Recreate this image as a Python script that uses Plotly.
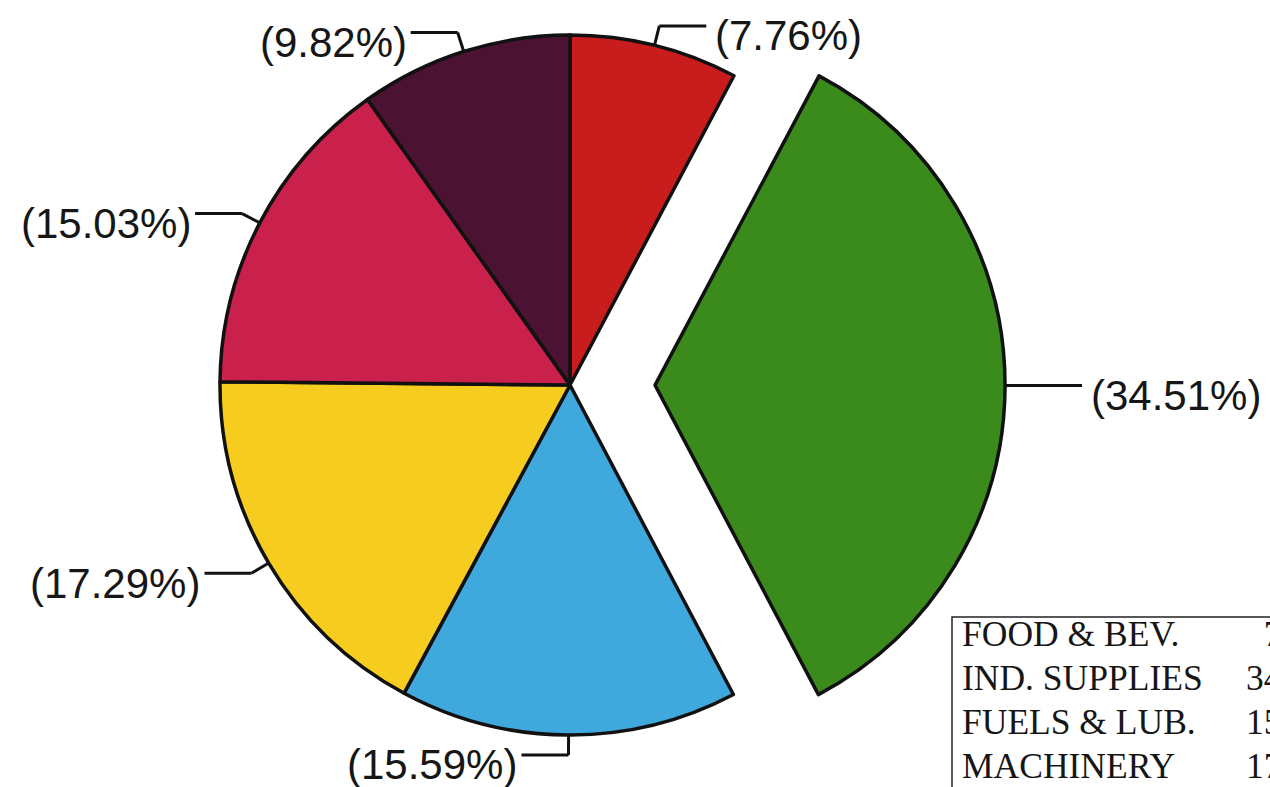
import math
import plotly.graph_objects as go

# ---- data ----
categories = ["FOOD & BEV.", "IND. SUPPLIES", "FUELS & LUB.", "MACHINERY", "TRANSPORT EQUIP.", "OTHERS"]
shares = [7.76, 34.51, 15.59, 17.29, 15.03, 9.82]
colors = ["#c91c1c", "#3a8b1c", "#3fa8dc", "#f6cd1e", "#c9204c", "#4b1331"]
pulled = [False, True, False, False, False, False]
table_rows = ["FOOD & BEV.", "IND. SUPPLIES", "FUELS & LUB.", "MACHINERY"]
table_values = [7.76, 34.51, 15.59, 17.29]

# ---- layout constants ----
W, H = 1270, 787
CX, CY, R = 570, 385, 350
PULL = 0.243
EDGE = "#111111"
LABEL_FONT = dict(family="Liberation Sans, Arial, sans-serif", size=42, color="#161616")
TABLE_FONT = dict(family="Liberation Serif, Times New Roman, serif", size=35.5, color="#161616")


def px2paper(x, y):
    return x / W, 1 - y / H


def domain(cx, cy, r):
    x0, y0 = px2paper(cx - r, cy + r)
    x1, y1 = px2paper(cx + r, cy - r)
    return dict(x=[x0, x1], y=[y0, y1])


total = sum(shares)
# mid angles (clockwise from 12 o'clock)
mids = []
acc = 0
for v in shares:
    mids.append(2 * math.pi * (acc + v / 2) / total)
    acc += v

# offset of pulled slice
pull_idx = pulled.index(True)
sx = PULL * R * math.sin(mids[pull_idx])
sy = -PULL * R * math.cos(mids[pull_idx])

transparent = "rgba(0,0,0,0)"
LW = 3.5

# Base pie: every slice except the pulled one
traceA = go.Pie(
    labels=categories, values=shares, sort=False, direction="clockwise", rotation=0,
    marker=dict(colors=[transparent if p else c for c, p in zip(colors, pulled)],
                line=dict(color=EDGE, width=[0 if p else LW for p in pulled])),
    textinfo="none", domain=domain(CX, CY, R), showlegend=False,
    hovertemplate="%{label}: %{percent}<extra></extra>",
)
# Exploded slice: same pie, shifted along the slice bisector
traceB = go.Pie(
    labels=categories, values=shares, sort=False, direction="clockwise", rotation=0,
    marker=dict(colors=[c if p else transparent for c, p in zip(colors, pulled)],
                line=dict(color=EDGE, width=[LW if p else 0 for p in pulled])),
    textinfo="none", domain=domain(CX + sx, CY + sy, R), showlegend=False,
    hoverinfo="skip",
)

fig = go.Figure([traceA, traceB])

shapes = []
annotations = []
ELBOW = 20
HORIZ = 47
for i, (v, a) in enumerate(zip(shares, mids)):
    cx = CX + (sx if pulled[i] else 0)
    cy = CY + (sy if pulled[i] else 0)
    s, c = math.sin(a), math.cos(a)
    px, py = cx + R * s, cy - R * c
    ex, ey = cx + (R + ELBOW) * s, cy - (R + ELBOW) * c
    side = 1 if s > 1e-6 else -1
    hx = ex + side * (HORIZ + (10 if pulled[i] else 0))
    for (x0, y0, x1, y1) in [(px, py, ex, ey), (ex, ey, hx, ey)]:
        a0 = px2paper(x0, y0)
        a1 = px2paper(x1, y1)
        shapes.append(dict(type="line", xref="paper", yref="paper",
                           x0=a0[0], y0=a0[1], x1=a1[0], y1=a1[1],
                           line=dict(color=EDGE, width=3), layer="above"))
    gap = 7 if side > 0 else 2
    tx, ty = px2paper(hx + side * gap, ey + 10)
    annotations.append(dict(text=f"({v:.2f}%)", x=tx, y=ty, xref="paper", yref="paper",
                            xanchor="left" if side > 0 else "right", yanchor="middle",
                            showarrow=False, font=LABEL_FONT))

# table box at bottom right
TX0, TY0 = 952, 617
ROW_H = 44
b0 = px2paper(TX0, TY0)
b1 = px2paper(W + 40, TY0 + ROW_H * (len(table_rows) + 2))
shapes.append(dict(type="rect", xref="paper", yref="paper", x0=b0[0], y0=b0[1], x1=b1[0], y1=b1[1],
                   line=dict(color="#222222", width=1.5), fillcolor="rgba(0,0,0,0)", layer="above"))
for k, (name, val) in enumerate(zip(table_rows, table_values)):
    ry = TY0 + 17 + ROW_H * k
    lx, ly = px2paper(TX0 + 8, ry)
    annotations.append(dict(text=name, x=lx, y=ly, xref="paper", yref="paper",
                            xanchor="left", yanchor="middle", showarrow=False, font=TABLE_FONT))
    vtxt = f"{val:5.2f}%".replace(" ", "\u2007")
    vx, vy = px2paper(1244, ry)
    annotations.append(dict(text=vtxt, x=vx, y=vy, xref="paper", yref="paper",
                            xanchor="left", yanchor="middle", showarrow=False, font=TABLE_FONT))

fig.update_layout(
    width=W, height=H, margin=dict(l=0, r=0, t=0, b=0),
    paper_bgcolor="white", plot_bgcolor="white",
    shapes=shapes, annotations=annotations, showlegend=False,
)

fig.write_html("out.html", config={"displayModeBar": False},
               post_script="document.body.style.margin='0px';document.body.style.overflow='hidden';")
